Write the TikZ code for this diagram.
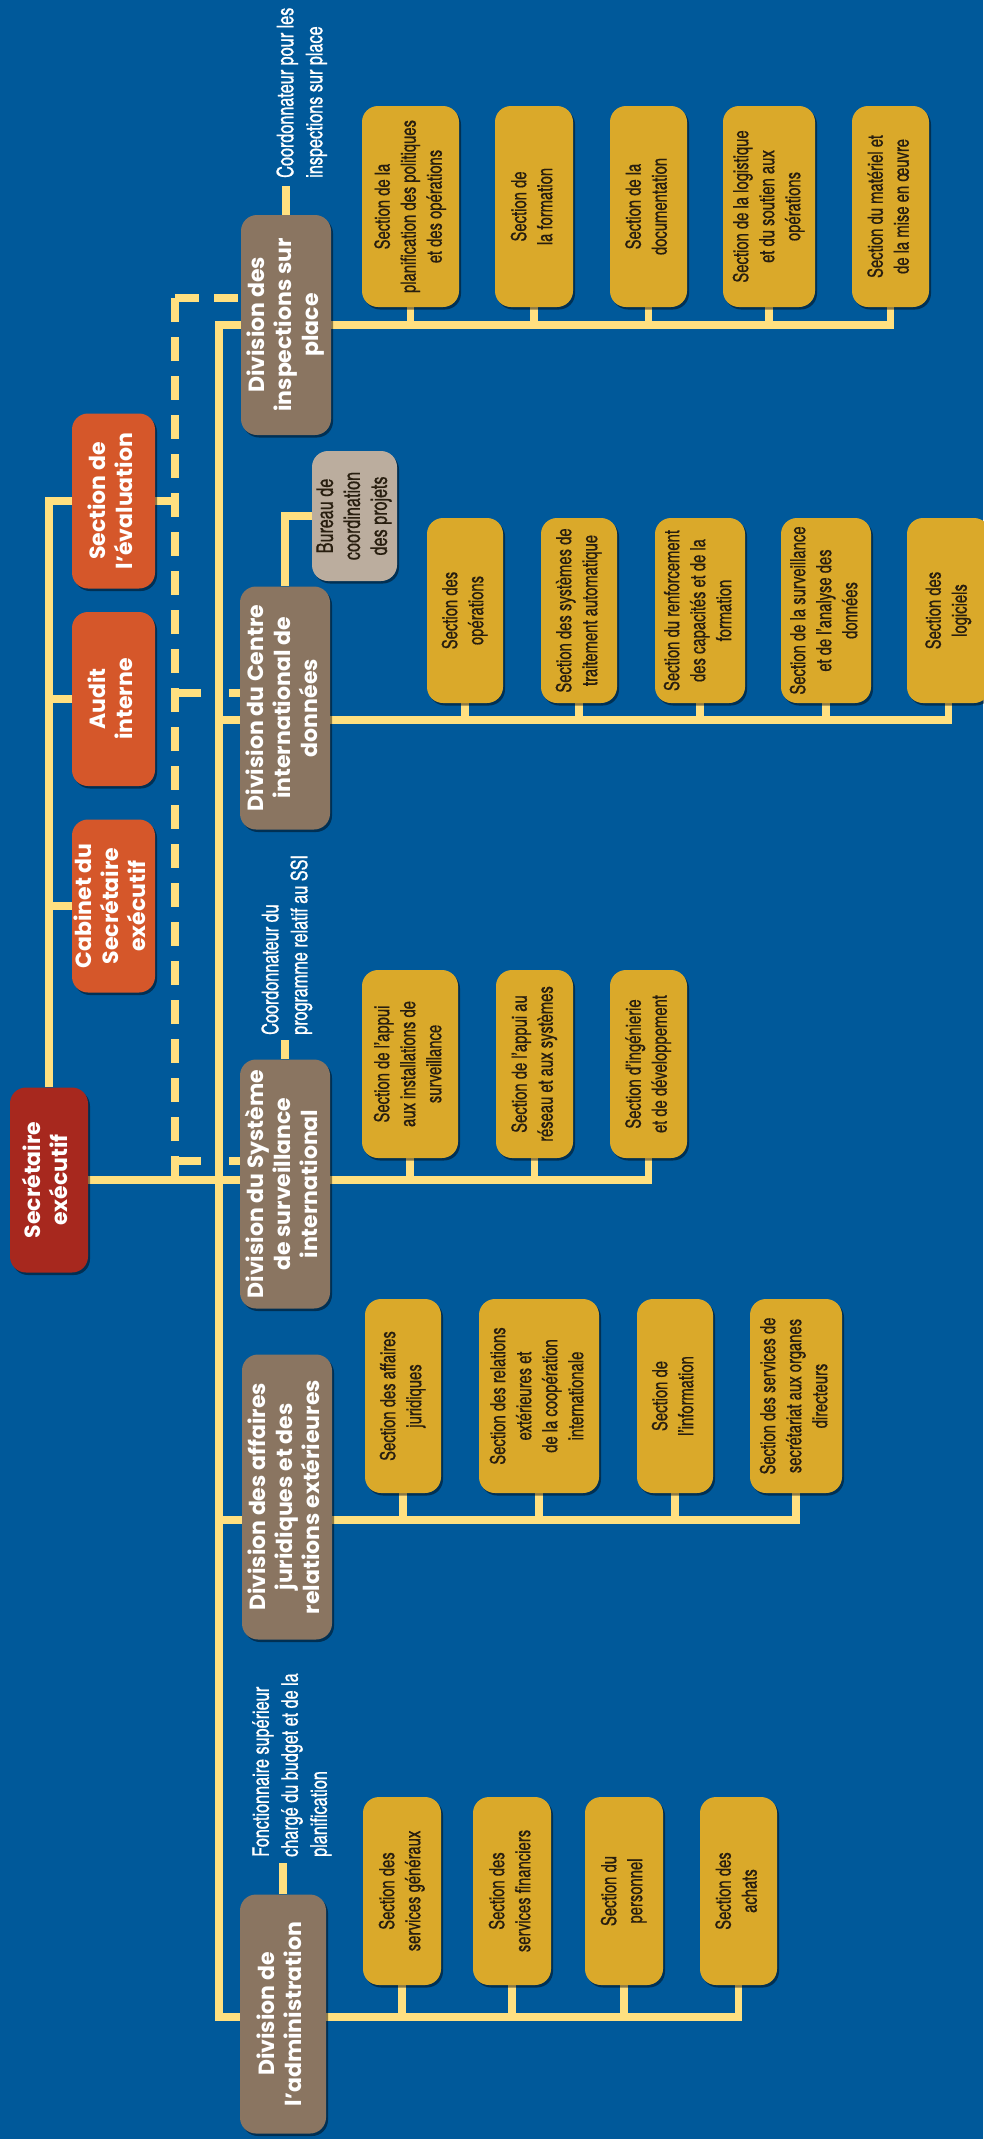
\documentclass[tikz,border=0pt]{standalone}
\usepackage{fontspec}
\usepackage{graphicx}
\usetikzlibrary{shadows,calc}
\setmainfont{TeX Gyre Heros}
\newfontfamily\condf{texgyreheroscn-regular.otf}[FakeStretch=0.86,FakeBold=0.6]
\newfontfamily\headf{Poppins}
\definecolor{bgblue}{RGB}{0,89,154}
\definecolor{lineyel}{RGB}{255,224,128}
\definecolor{boxyel}{RGB}{218,169,42}
\definecolor{divbrown}{RGB}{138,117,97}
\definecolor{burtaupe}{RGB}{187,173,158}
\definecolor{orangebox}{RGB}{213,87,42}
\definecolor{sered}{RGB}{167,40,30}
\definecolor{darktxt}{RGB}{40,30,15}
\newcommand{\rtxt}[1]{\rotatebox{90}{\begin{tabular}{@{}c@{}}#1\end{tabular}}}
\newcommand{\ltxt}[1]{\rotatebox{90}{\begin{tabular}{@{}l@{}}#1\end{tabular}}}
\pgfdeclarelayer{bg}
\pgfdeclarelayer{lines}
\pgfsetlayers{bg,lines,main}
\begin{document}
\begin{tikzpicture}[x=1pt,y=-1pt,
  boxbase/.style={rounded corners=16pt, inner sep=0pt,
    drop shadow={shadow xshift=2pt, shadow yshift=-2.5pt, opacity=0.45, fill=black}},
  secbox/.style={boxbase, fill=boxyel, text=darktxt, font={\condf\fontsize{21}{26}\selectfont}},
  burbox/.style={boxbase, fill=burtaupe, text=darktxt, font={\condf\fontsize{23}{27}\selectfont}},
  divbox/.style={boxbase, fill=divbrown, text=white, minimum width=90pt, font={\headf\bfseries\fontsize{22}{27}\selectfont}},
  orgbox/.style={boxbase, fill=orangebox, text=white, minimum width=83pt, font={\headf\bfseries\fontsize{22}{27}\selectfont}},
  sebox/.style={boxbase, fill=sered, text=white, font={\headf\bfseries\fontsize{22}{27}\selectfont}},
  lbl/.style={text=white, inner sep=0pt, font={\condf\fontsize{23}{29}\selectfont}},
  conn/.style={draw=lineyel, line width=7.5pt},
  dconn/.style={draw=lineyel, line width=7.5pt, dash pattern=on 24pt off 15pt},
  gapconn/.style={draw=lineyel, line width=7.5pt, dash pattern=on 26pt off 28pt on 60pt}
]
\begin{pgfonlayer}{bg}
\fill[bgblue] (0,0) rectangle (983,2139);
\end{pgfonlayer}
\useasboundingbox (0,0) rectangle (983,2139);

% ---------- coordinates of the line network
\coordinate (ttop) at (219,325);
\coordinate (tidc) at (219,720);
\coordinate (tiss) at (219,1180);
\coordinate (tleg) at (219,1520);
\coordinate (tbot) at (219,2017);
\coordinate (dtop) at (175,298);
\coordinate (dbot) at (175,1180);
\coordinate (didcd) at (175,693);
\coordinate (dissd) at (175,1161);

% ---------- top level
\node[sebox, minimum width=78pt, minimum height=185pt] (se) at (49,1180) {\rtxt{Secrétaire\\exécutif}};
\node[orgbox, minimum height=175pt] (eva) at (113.5,501) {\rtxt{Section de\\l’évaluation}};
\node[orgbox, minimum height=174pt] (aud) at (113.5,699) {\rtxt{Audit\\interne}};
\node[orgbox, minimum height=173pt] (cab) at (113.5,906) {\rtxt{Cabinet du\\Secrétaire\\exécutif}};

% ---------- divisions
\node[divbox, minimum height=220pt] (dip) at (286,325) {\rtxt{Division des\\inspections sur\\place}};
\node[divbox, minimum height=243pt] (didc) at (285,708) {\rtxt{Division du Centre\\international de\\données}};
\node[divbox, minimum height=249pt] (diss) at (285,1184) {\rtxt{Division du Système\\de surveillance\\international}};
\node[divbox, minimum height=285pt] (dleg) at (287,1497) {\rtxt{Division des affaires\\juridiques et des\\relations extérieures}};
\node[divbox, minimum width=86pt, minimum height=239pt] (dadm) at (283,2014) {\rtxt{Division de\\l’administration}};

\node[burbox, minimum width=85pt, minimum height=130pt] (bur) at (354.5,516) {\rtxt{Bureau de\\coordination\\des projets}};

% ---------- labels
\node[lbl, anchor=south] (lab1) at (302,178) {\ltxt{Coordonnateur pour les\\inspections sur place}};
\node[lbl, anchor=south] (lab2) at (287,1035) {\ltxt{Coordonnateur du\\programme relatif au SSI}};
\node[lbl, anchor=south] (lab3) at (292,1857) {\ltxt{Fonctionnaire supérieur\\chargé du budget et de la\\planification}};

% ---------- inspections sections
\node[secbox, minimum width=97pt, minimum height=201pt] (i1) at (410.5,206.5) {\rtxt{Section de la\\planification des politiques\\et des opérations}};
\node[secbox, minimum width=78pt, minimum height=201pt] (i2) at (534,206.5) {\rtxt{Section de\\la formation}};
\node[secbox, minimum width=77pt, minimum height=201pt] (i3) at (648.5,206.5) {\rtxt{Section de la\\documentation}};
\node[secbox, minimum width=92pt, minimum height=201pt] (i4) at (769,206.5) {\rtxt{Section de la logistique\\et du soutien aux\\opérations}};
\node[secbox, minimum width=77pt, minimum height=201pt] (i5) at (890.5,206.5) {\rtxt{Section du matériel et\\de la mise en œuvre}};

% ---------- IDC sections
\node[secbox, minimum width=76pt, minimum height=185pt] (c1) at (465,610.5) {\rtxt{Section des\\opérations}};
\node[secbox, minimum width=76pt, minimum height=185pt] (c2) at (579,610.5) {\rtxt{Section des systèmes de\\traitement automatique}};
\node[secbox, minimum width=90pt, minimum height=185pt] (c3) at (700,610.5) {\rtxt{Section du renforcement\\des capacités et de la\\formation}};
\node[secbox, minimum width=90pt, minimum height=185pt] (c4) at (826,610.5) {\rtxt{Section de la surveillance\\et de l’analyse des\\données}};
\node[secbox, minimum width=83pt, minimum height=185pt] (c5) at (948.5,610.5) {\rtxt{Section des\\logiciels}};

% ---------- ISS sections
\node[secbox, minimum width=96pt, minimum height=188pt] (s1) at (410,1064) {\rtxt{Section de l’appui\\aux installations de\\surveillance}};
\node[secbox, minimum width=77pt, minimum height=188pt] (s2) at (534.5,1064) {\rtxt{Section de l’appui au\\réseau et aux systèmes}};
\node[secbox, minimum width=77pt, minimum height=188pt] (s3) at (648.5,1064) {\rtxt{Section d’ingénierie\\et de développement}};

% ---------- legal sections
\node[secbox, minimum width=76pt, minimum height=194pt] (l1) at (403,1396) {\rtxt{Section des affaires\\juridiques}};
\node[secbox, minimum width=120pt, minimum height=194pt] (l2) at (539,1396) {\rtxt{Section des relations\\extérieures et\\de la coopération\\internationale}};
\node[secbox, minimum width=76pt, minimum height=194pt] (l3) at (675,1396) {\rtxt{Section de\\l’information}};
\node[secbox, minimum width=92pt, minimum height=194pt] (l4) at (796,1396) {\rtxt{Section des services de\\secrétariat aux organes\\directeurs}};

% ---------- admin sections
\node[secbox, minimum width=78pt, minimum height=188pt] (a1) at (402,1891) {\rtxt{Section des\\services généraux}};
\node[secbox, minimum width=78pt, minimum height=188pt] (a2) at (512,1891) {\rtxt{Section des\\services financiers}};
\node[secbox, minimum width=78pt, minimum height=188pt] (a3) at (624,1891) {\rtxt{Section du\\personnel}};
\node[secbox, minimum width=77pt, minimum height=188pt] (a4) at (738.5,1891) {\rtxt{Section des\\achats}};

% ---------- connectors (behind the boxes)
\begin{pgfonlayer}{lines}
% Secrétaire exécutif to the three offices
\draw[conn] (se.north) -- (se.north |- eva.west) -- (eva.west);
\draw[conn] (se.north |- aud.west) -- (aud.west);
\draw[conn] (se.north |- cab.west) -- (cab.west);
% Secrétaire exécutif to the ISS division (main line)
\draw[conn] (se.east) -- (se.east -| diss.west);
% trunk
\draw[conn] (dip.west) -- (ttop) -- (tbot) -- (tbot -| dadm.west);
\draw[conn] (tidc) -- (tidc -| didc.west);
\draw[conn] (tleg) -- (tleg -| dleg.west);
% dashed line of the evaluation
\draw[conn] (eva.east) -- (eva.east -| dtop);
\draw[dconn] (dtop) -- (dbot);
\draw[dconn] (dtop) -- (dtop -| dip.west);
\draw[gapconn] (didcd) -- (didcd -| didc.west);
\draw[gapconn] (dissd) -- (dissd -| diss.west);
% Bureau
\draw[conn] (didc.north) |- (bur.west);
% label stubs
\draw[conn] (dip.north) -- ($(dip.north |- lab1.south)+(0,8)$);
\draw[conn] (diss.north) -- ($(diss.north |- lab2.south)+(0,5)$);
\draw[conn] (dadm.north) -- ($(dadm.north |- lab3.south)+(0,6)$);
% inspections sections
\draw[conn] (dip.east) -- (dip.east -| i5.south) -- (i5.south);
\foreach \n in {i1,i2,i3,i4}{\draw[conn] (\n.south) -- (\n.south |- dip.east);}
% IDC sections
\draw[conn] (tidc -| didc.east) -- (tidc -| c5.south) -- (c5.south);
\foreach \n in {c1,c2,c3,c4}{\draw[conn] (\n.south) -- (\n.south |- tidc);}
% ISS sections
\draw[conn] (tiss -| diss.east) -- (tiss -| s3.south) -- (s3.south);
\foreach \n in {s1,s2}{\draw[conn] (\n.south) -- (\n.south |- tiss);}
% legal sections
\draw[conn] (tleg -| dleg.east) -- (tleg -| l4.south) -- (l4.south);
\foreach \n in {l1,l2,l3}{\draw[conn] (\n.south) -- (\n.south |- tleg);}
% admin sections
\draw[conn] (tbot -| dadm.east) -- (tbot -| a4.south) -- (a4.south);
\foreach \n in {a1,a2,a3}{\draw[conn] (\n.south) -- (\n.south |- tbot);}
\end{pgfonlayer}
\end{tikzpicture}
\end{document}
